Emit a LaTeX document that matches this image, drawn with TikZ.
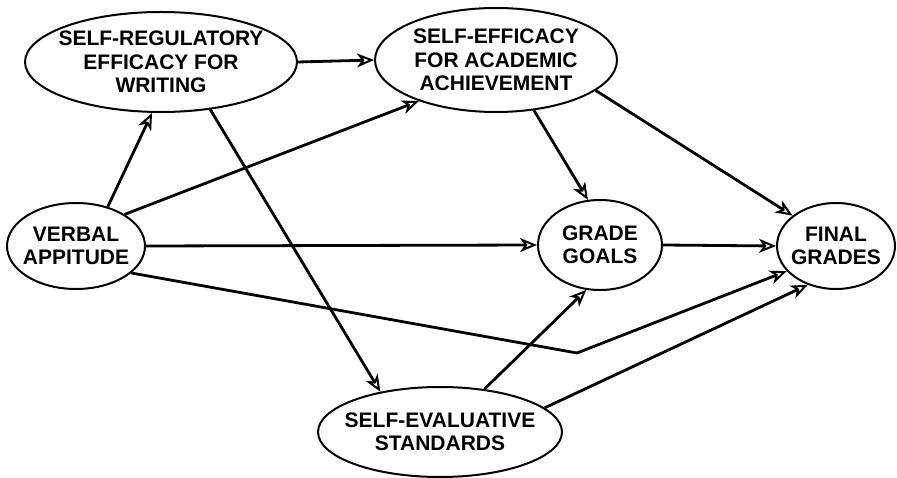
\documentclass[tikz,border=0pt]{standalone}
\usepackage{fontspec}
\setmainfont{Liberation Sans}
\usetikzlibrary{shapes.geometric,arrows.meta}
\begin{document}
\begin{tikzpicture}[x=1pt,y=-1pt,
  ell/.style={ellipse,draw,line width=2pt,inner sep=0pt},
  txt/.style={align=center,font=\bfseries\fontsize{21}{23.5}\selectfont,inner sep=0pt},
  arr/.style={line width=2.8pt,-{Stealth[open,length=17pt,width=14pt,inset=5pt,line width=2pt]}},
  seg/.style={line width=2.8pt}]
\useasboundingbox (0,0) rectangle (897,478);
\node[ell,minimum width=272pt,minimum height=100pt,label={[txt]center:{SELF-REGULATORY\\EFFICACY FOR\\WRITING}}] (sr) at (161,62) {};
\node[ell,minimum width=242pt,minimum height=104pt,label={[txt]center:{SELF-EFFICACY\\FOR ACADEMIC\\ACHIEVEMENT}}] (se) at (496,60) {};
\node[ell,minimum width=138pt,minimum height=86pt,label={[txt]center:{VERBAL\\APPITUDE}}] (va) at (76,246) {};
\node[ell,minimum width=124pt,minimum height=90pt,label={[txt]center:{GRADE\\GOALS}}] (gg) at (600,245) {};
\node[ell,minimum width=118pt,minimum height=86pt,label={[txt]center:{FINAL\\GRADES}}] (fg) at (836,246) {};
\node[ell,minimum width=244pt,minimum height=90pt,label={[txt]center:{SELF-EVALUATIVE\\STANDARDS}}] (ses) at (440,432) {};
\coordinate (bend) at (577,353);
\draw[arr] (sr.0) -- (se.180);
\draw[arr] (va.51) -- (sr.260);
\draw[arr] (va.33) -- (se.208.6);
\draw[arr] (va.0) -- (gg.180);
\draw[seg] (va.334.7) -- (bend);
\draw[arr] (bend) -- (fg.207.5);
\draw[arr] (sr.316.7) -- (ses.146.3);
\draw[arr] (se.307.7) -- (gg.105);
\draw[arr] (se.343.9) -- (fg.145.1);
\draw[arr] (gg.0) -- (fg.180);
\draw[arr] (ses.44.4) -- (gg.253.9);
\draw[arr] (ses.13.4) -- (fg.234.6);
\end{tikzpicture}
\end{document}
